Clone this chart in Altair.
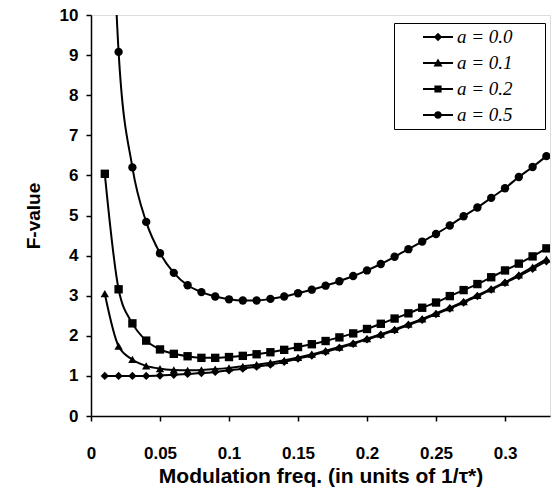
import altair as alt
import pandas as pd

freq = [round(0.01 * i, 2) for i in range(1, 34)]

f_a00 = [1.00, 1.00, 1.00, 1.00, 1.01, 1.03, 1.05, 1.07, 1.10, 1.14,
         1.18, 1.23, 1.28, 1.35, 1.43, 1.51, 1.60, 1.70, 1.80, 1.91,
         2.02, 2.14, 2.27, 2.40, 2.54, 2.68, 2.83, 2.99, 3.15, 3.32,
         3.49, 3.67, 3.86]
f_a01 = [3.05, 1.74, 1.41, 1.25, 1.18, 1.15, 1.14, 1.15, 1.17, 1.20,
         1.24, 1.28, 1.33, 1.39, 1.46, 1.54, 1.63, 1.72, 1.82, 1.93,
         2.04, 2.16, 2.29, 2.42, 2.56, 2.70, 2.85, 3.01, 3.17, 3.34,
         3.52, 3.71, 3.91]
f_a02 = [6.04, 3.16, 2.31, 1.88, 1.66, 1.55, 1.49, 1.45, 1.45, 1.47,
         1.50, 1.54, 1.59, 1.65, 1.72, 1.79, 1.87, 1.96, 2.06, 2.17,
         2.30, 2.43, 2.56, 2.70, 2.83, 2.99, 3.14, 3.29, 3.46, 3.63,
         3.80, 3.98, 4.18]
f_a05 = [18.0, 9.08, 6.20, 4.84, 4.06, 3.57, 3.26, 3.09, 2.98, 2.91,
         2.88, 2.88, 2.92, 2.98, 3.06, 3.15, 3.25, 3.36, 3.49, 3.63,
         3.79, 3.97, 4.16, 4.35, 4.54, 4.75, 4.98, 5.20, 5.44, 5.68,
         5.96, 6.21, 6.48]

series_labels = ["a = 0.0", "a = 0.1", "a = 0.2", "a = 0.5"]
x_ticks = [0, 0.05, 0.1, 0.15, 0.2, 0.25, 0.3]
y_ticks = [0, 1, 2, 3, 4, 5, 6, 7, 8, 9, 10]

rows = []
for lab, vals in zip(series_labels, [f_a00, f_a01, f_a02, f_a05]):
    for fx, fv in zip(freq, vals):
        rows.append({"freq": fx, "F": fv, "series": lab})
df = pd.DataFrame(rows)

FONT = "Liberation Sans"

x_enc = alt.X(
    "freq:Q",
    scale=alt.Scale(domain=[0, 0.3326], nice=False, zero=False),
    axis=alt.Axis(
        values=x_ticks, format="~g", grid=False,
        title="Modulation freq. (in units of 1/\u03c4*)",
        labelFont=FONT, labelFontSize=17, labelFontWeight="bold", labelColor="black",
        labelPadding=24, labelFlush=False,
        titleFont=FONT, titleFontSize=21, titleFontWeight="bold", titleColor="black",
        titlePadding=4,
        tickSize=5, tickColor="black", tickWidth=1.5,
        domainColor="black", domainWidth=1.5,
    ),
)
y_enc = alt.Y(
    "F:Q",
    scale=alt.Scale(domain=[0, 10], nice=False),
    axis=alt.Axis(
        values=y_ticks, grid=False, title="F-value",
        labelFont=FONT, labelFontSize=17, labelFontWeight="bold", labelColor="black",
        labelPadding=8,
        titleFont=FONT, titleFontSize=19, titleFontWeight="bold", titleColor="black",
        titlePadding=16,
        tickSize=5, tickColor="black", tickWidth=1.5,
        domainColor="black", domainWidth=1.5,
    ),
)

lines = alt.Chart(df).mark_line(
    interpolate="monotone", color="black", strokeWidth=2, clip=True
).encode(x=x_enc, y=y_enc, detail="series:N")

points = alt.Chart(df).mark_point(
    filled=True, color="black", opacity=1, size=70, clip=True
).encode(
    x=x_enc, y=y_enc,
    shape=alt.Shape(
        "series:N",
        scale=alt.Scale(domain=series_labels,
                        range=["diamond", "triangle-up", "square", "circle"]),
        legend=None,
    ),
)

# legend symbols: a short line with the marker, plus an invisible point that sets the box width
line_part = "M1.5,-0.1L4.5,-0.1L4.5,0.1L1.5,0.1Z"
spacer = "M13.3,0L13.3,0Z"
legend_paths = [
    line_part + "M3,-0.42L3.42,0L3,0.42L2.58,0Z" + spacer,
    line_part + "M3,-0.45L3.45,0.35L2.55,0.35Z" + spacer,
    line_part + "M2.64,-0.36L3.36,-0.36L3.36,0.36L2.64,0.36Z" + spacer,
    line_part + "M2.62,0A0.38,0.38 0 1,1 3.38,0A0.38,0.38 0 1,1 2.62,0Z" + spacer,
]

legend_layer = alt.Chart(df).transform_filter("false").mark_point(
    filled=True, color="black", opacity=1
).encode(
    x=x_enc, y=y_enc,
    shape=alt.Shape(
        "series:N",
        scale=alt.Scale(domain=series_labels, range=legend_paths),
        legend=alt.Legend(
            orient="none", legendX=303, legendY=8, title=None,
            symbolSize=400, symbolFillColor="black", symbolOpacity=1,
            symbolStrokeWidth=0,
            labelFont="Liberation Serif", labelFontStyle="italic", labelFontSize=19,
            labelColor="black", labelOffset=39,
            padding=4, rowPadding=6,
            strokeColor="black", fillColor="white",
        ),
    ),
)

chart = alt.layer(lines, points, legend_layer).resolve_scale(
    shape="independent"
).properties(
    width=459, height=401,
    autosize=alt.AutoSizeParams(type="none"),
    padding={"left": 91, "top": 15, "right": 2, "bottom": 81},
).configure_view(
    stroke="black", strokeWidth=1.5
).configure_axis(
    labelFontWeight="bold"
).configure(background="white")

chart.save("out.html", embed_options={"renderer": "svg", "actions": False})
